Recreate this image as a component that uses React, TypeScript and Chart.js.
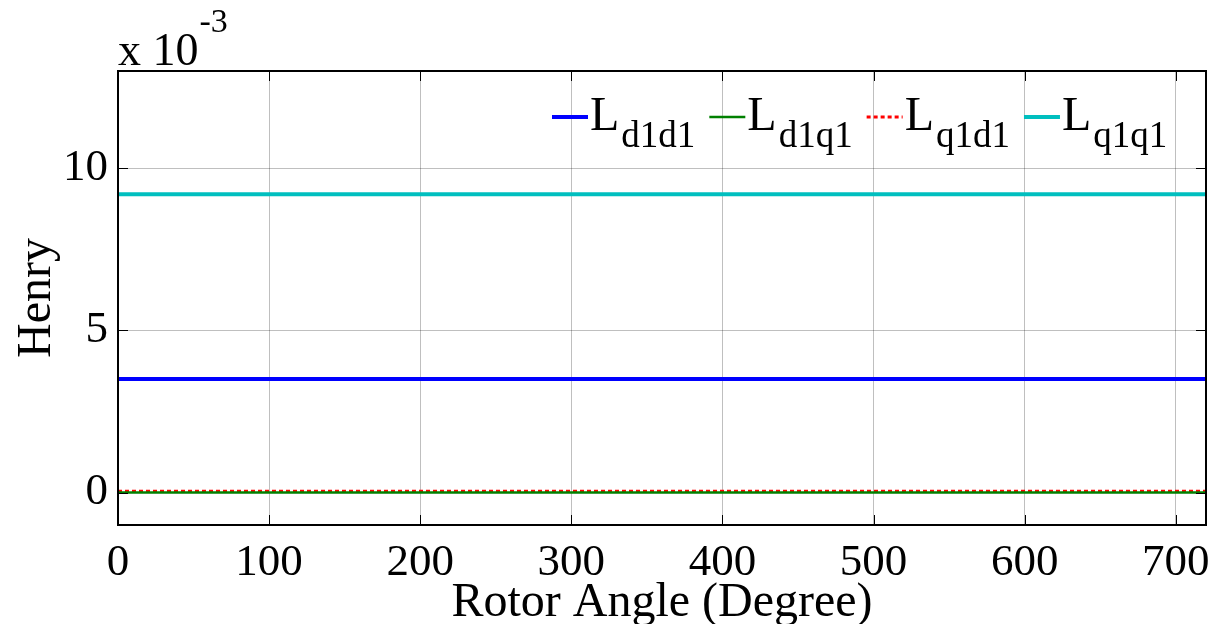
import React, { useEffect, useRef } from "react";
import { Chart, registerables } from "chart.js";

Chart.register(...registerables);

// Rotor angle samples (degrees)
const angles = [0, 60, 120, 180, 240, 300, 360, 420, 480, 540, 600, 660, 720];
// Inductances in units of 1e-3 H
const Ld1d1 = [3.5, 3.5, 3.5, 3.5, 3.5, 3.5, 3.5, 3.5, 3.5, 3.5, 3.5, 3.5, 3.5];
const Ld1q1 = [0.0, 0.0, 0.0, 0.0, 0.0, 0.0, 0.0, 0.0, 0.0, 0.0, 0.0, 0.0, 0.0];
const Lq1d1 = [0.04, 0.04, 0.04, 0.04, 0.04, 0.04, 0.04, 0.04, 0.04, 0.04, 0.04, 0.04, 0.04];
const Lq1q1 = [9.2, 9.2, 9.2, 9.2, 9.2, 9.2, 9.2, 9.2, 9.2, 9.2, 9.2, 9.2, 9.2];
const xTicks = [0, 100, 200, 300, 400, 500, 600, 700];
const yTicks = [0, 5, 10];
const legendSubs = ["d1d1", "d1q1", "q1d1", "q1q1"];

const FONT = "'Times New Roman', 'Liberation Serif', serif";

const pts = (ys: number[]) => angles.map((a, i) => ({ x: a, y: ys[i] }));

export default function App() {
  const ref = useRef<HTMLCanvasElement | null>(null);

  useEffect(() => {
    if (!ref.current) return;
    const colors = ["#0000ff", "#008000", "#ff0000", "#00bfbf"];
    const widths = [4, 2.5, 3, 4];
    const dashes: number[][] = [[], [], [4, 3], []];

    const framePlugin = {
      id: "frame",
      afterDraw(chart: any) {
        const { ctx, chartArea: a, scales } = chart;
        ctx.save();
        // inward tick marks
        ctx.strokeStyle = "#000";
        ctx.lineWidth = 1;
        ctx.beginPath();
        for (const v of xTicks) {
          const px = Math.round(scales.x.getPixelForValue(v)) + 0.5;
          ctx.moveTo(px, a.bottom);
          ctx.lineTo(px, a.bottom - 10);
          ctx.moveTo(px, a.top);
          ctx.lineTo(px, a.top + 10);
        }
        for (const v of yTicks) {
          const py = Math.round(scales.y.getPixelForValue(v)) + 0.5;
          ctx.moveTo(a.left, py);
          ctx.lineTo(a.left + 10, py);
          ctx.moveTo(a.right, py);
          ctx.lineTo(a.right - 10, py);
        }
        ctx.stroke();

        ctx.lineWidth = 2;
        ctx.strokeRect(a.left, a.top, a.right - a.left, a.bottom - a.top);

        // exponent label
        ctx.fillStyle = "#000";
        ctx.textBaseline = "alphabetic";
        ctx.textAlign = "left";
        ctx.font = `46px ${FONT}`;
        ctx.fillText("x 10", 118, 65);
        const w = ctx.measureText("x 10").width;
        ctx.font = `34px ${FONT}`;
        ctx.fillText("-3", 118 + w + 1, 32);

        // axis titles
        ctx.font = `48px ${FONT}`;
        ctx.textAlign = "center";
        ctx.fillText("Rotor Angle (Degree)", (a.left + a.right) / 2, 616);
        ctx.save();
        ctx.translate(50, (a.top + a.bottom) / 2);
        ctx.rotate(-Math.PI / 2);
        ctx.fillText("Henry", 0, 0);
        ctx.restore();

        // legend
        let x = 552;
        const lineY = 117;
        for (let i = 0; i < 4; i++) {
          ctx.strokeStyle = colors[i];
          ctx.lineWidth = widths[i];
          ctx.setLineDash(dashes[i]);
          ctx.beginPath();
          ctx.moveTo(x, lineY);
          ctx.lineTo(x + 36, lineY);
          ctx.stroke();
          ctx.setLineDash([]);
          x += 38;
          ctx.fillStyle = "#000";
          ctx.textAlign = "left";
          ctx.font = `48px ${FONT}`;
          ctx.fillText("L", x, 130);
          x += ctx.measureText("L").width + 2;
          ctx.font = `37px ${FONT}`;
          ctx.fillText(legendSubs[i], x, 147);
          x += ctx.measureText(legendSubs[i]).width + 14;
        }
        ctx.restore();
      },
    };

    const mk = (label: string, data: number[], i: number) => ({
      label,
      data: pts(data),
      borderColor: colors[i],
      backgroundColor: colors[i],
      borderWidth: widths[i],
      borderDash: dashes[i],
      pointRadius: 0,
      fill: false,
      tension: 0,
    });

    const chart = new Chart(ref.current, {
      type: "line",
      data: {
        datasets: [
          mk("Lq1q1", Lq1q1, 3),
          mk("Ld1d1", Ld1d1, 0),
          mk("Ld1q1", Ld1q1, 1),
          mk("Lq1d1", Lq1d1, 2),
        ],
      },
      options: {
        animation: false,
        responsive: false,
        maintainAspectRatio: false,
        layout: { padding: { top: 71, right: 9, left: 0, bottom: 0 } },
        plugins: { legend: { display: false }, tooltip: { enabled: false } },
        scales: {
          x: {
            type: "linear",
            min: 0,
            max: 720,
            afterBuildTicks: (s: any) => {
              s.ticks = xTicks.map((v) => ({ value: v }));
            },
            afterFit: (s: any) => {
              s.height = 99;
              s.paddingLeft = 0;
              s.paddingRight = 0;
            },
            grid: { color: "rgba(0,0,0,0.25)", lineWidth: 1, drawTicks: false },
            border: { display: false },
            ticks: { color: "#000", font: { family: FONT, size: 45 }, padding: 11, maxRotation: 0, autoSkip: false },
          },
          y: {
            type: "linear",
            min: -1,
            max: 13,
            afterBuildTicks: (s: any) => {
              s.ticks = yTicks.map((v) => ({ value: v }));
            },
            afterFit: (s: any) => {
              s.width = 118;
              s.paddingTop = 0;
              s.paddingBottom = 0;
            },
            grid: { color: "rgba(0,0,0,0.25)", lineWidth: 1, drawTicks: false },
            border: { display: false },
            ticks: { color: "#000", font: { family: FONT, size: 45 }, padding: 10 },
          },
        },
      },
      plugins: [framePlugin],
    } as any);
    return () => chart.destroy();
  }, []);

  return (
    <div style={{ position: "absolute", left: 0, top: 0, width: 1215, height: 624, background: "#fff" }}>
      <canvas ref={ref} width={1215} height={624} style={{ display: "block" }} />
    </div>
  );
}
